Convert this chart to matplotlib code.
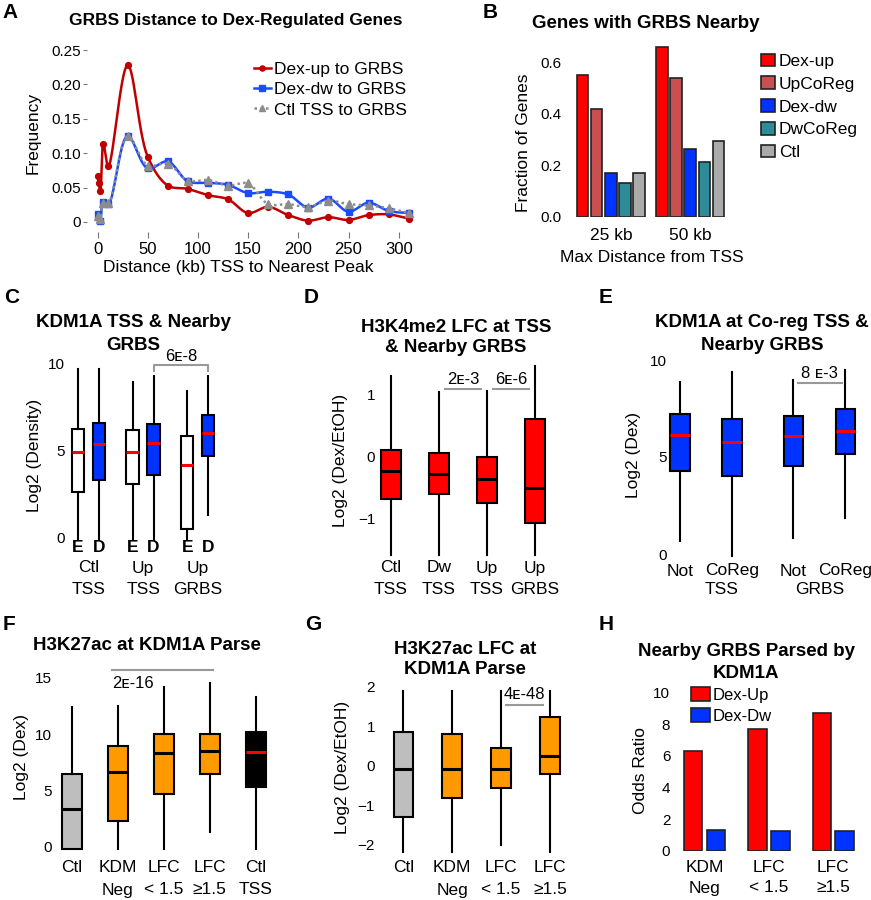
import numpy as np
import matplotlib
matplotlib.use('Agg')
import matplotlib.pyplot as plt
from matplotlib.lines import Line2D
from matplotlib.transforms import blended_transform_factory

plt.rcParams['font.family'] = ['Liberation Sans', 'DejaVu Sans']

# ---- A: GRBS distance to Dex-regulated genes ----
a_up_x = [0, 1.2, 2.8, 5.8, 10.8, 30, 50, 70, 90, 110, 130, 150, 170, 190, 210, 230, 250, 270, 290, 310]
a_up_y = [0.067, 0.056, 0.045, 0.114, 0.081, 0.228, 0.095, 0.053, 0.048, 0.039, 0.033, 0.013,
          0.022, 0.010, 0.002, 0.007, 0.003, 0.010, 0.011, 0.005]
a_dw_x = [0, 2.5, 5.8, 10.8, 30, 50, 70, 90, 110, 130, 150, 170, 190, 210, 230, 250, 270, 290, 310]
a_dw_y = [0.012, 0.002, 0.029, 0.026, 0.125, 0.078, 0.088, 0.059, 0.057, 0.054, 0.042, 0.044,
          0.040, 0.021, 0.034, 0.015, 0.028, 0.016, 0.013]
a_ctl_x = [0, 2.5, 5.8, 10.8, 30, 50, 70, 90, 110, 130, 150, 170, 190, 210, 230, 250, 270, 290, 310]
a_ctl_y = [0.008, 0.005, 0.027, 0.027, 0.125, 0.082, 0.085, 0.060, 0.061, 0.053, 0.056, 0.026,
           0.026, 0.022, 0.031, 0.026, 0.024, 0.020, 0.013]
a_names = ['Dex-up to GRBS', 'Dex-dw to GRBS', 'Ctl TSS to GRBS']

# ---- B: genes with GRBS nearby ----
b_groups = ['25 kb', '50 kb']
b_series = ['Dex-up', 'UpCoReg', 'Dex-dw', 'DwCoReg', 'Ctl']
b_dexup = [0.55, 0.66]
b_upcoreg = [0.418, 0.537]
b_dexdw = [0.171, 0.263]
b_dwcoreg = [0.13, 0.211]
b_ctl = [0.168, 0.295]

# ---- C: KDM1A TSS & nearby GRBS (E/D pairs) ----
c_groups = ['Ctl\nTSS', 'Up\nTSS', 'Up\nGRBS']
c_whislo = [-0.15, -0.15, -0.15, -0.15, -0.15, 1.3]
c_q1 = [2.6, 3.3, 3.05, 3.6, 0.45, 4.7]
c_med = [4.9, 5.35, 4.9, 5.4, 4.15, 6.0]
c_q3 = [6.2, 6.55, 6.15, 6.5, 5.8, 7.05]
c_whishi = [9.7, 9.7, 8.95, 9.25, 8.4, 9.25]
c_pval = '6ᴇ-8'

# ---- D: H3K4me2 LFC ----
d_labels = ['Ctl\nTSS', 'Dw\nTSS', 'Up\nTSS', 'Up\nGRBS']
d_whislo = [-1.58, -1.58, -1.58, -1.58]
d_q1 = [-0.68, -0.60, -0.75, -1.07]
d_med = [-0.23, -0.27, -0.36, -0.50]
d_q3 = [0.11, 0.07, 0.0, 0.61]
d_whishi = [1.30, 1.05, 1.07, 1.46]
d_pvals = ['2ᴇ-3', '6ᴇ-6']

# ---- E: KDM1A at co-reg TSS ----
e_labels = ['Not', 'CoReg', 'Not', 'CoReg']
e_groups = ['TSS', 'GRBS']
e_whislo = [0.69, -0.1, 0.81, 1.84]
e_q1 = [4.29, 4.04, 4.55, 5.15]
e_med = [6.13, 5.76, 6.08, 6.34]
e_q3 = [7.20, 6.96, 7.13, 7.47]
e_whishi = [8.88, 9.40, 8.97, 9.48]
e_pval = '8 ᴇ-3'

# ---- F: H3K27ac at KDM1A parse ----
f_labels = ['Ctl', 'KDM\nNeg', 'LFC\n< 1.5', 'LFC\n≥1.5', 'Ctl\nTSS']
f_whislo = [-0.15, -0.15, -0.15, 1.3, -0.15]
f_q1 = [-0.15, 2.33, 4.69, 6.46, 5.28]
f_med = [3.39, 6.64, 8.29, 8.50, 8.43]
f_q3 = [6.46, 8.94, 9.97, 9.97, 10.2]
f_whishi = [12.36, 12.48, 14.13, 14.49, 13.30]
f_pval = '2ᴇ-16'

# ---- G: H3K27ac LFC at KDM1A parse ----
g_labels = ['Ctl', 'KDM\nNeg', 'LFC\n< 1.5', 'LFC\n≥1.5']
g_whislo = [-2.18, -2.18, -2.01, -2.18]
g_q1 = [-1.31, -0.81, -0.57, -0.21]
g_med = [-0.09, -0.09, -0.09, 0.25]
g_q3 = [0.86, 0.80, 0.44, 1.24]
g_whishi = [1.90, 1.90, 1.90, 1.90]
g_pval = '4ᴇ-48'

# ---- H: odds ratio ----
h_groups = ['KDM\nNeg', 'LFC\n< 1.5', 'LFC\n≥1.5']
h_up = [6.31, 7.68, 8.70]
h_dw = [1.31, 1.27, 1.27]

RED = '#FF0000'
BLUE = '#0033FF'
ORANGE = '#FF9900'
GREY = '#BEBEBE'
PGREY = '#999999'

W, H = 871, 900
fig = plt.figure(figsize=(W / 100, H / 100), dpi=100)


def ptext(x, y, s, **kw):
    fig.text(x / W, 1 - y / H, s, **kw)


def title(x, y, s, step=23, size=13.5):
    for i, line in enumerate(s.split('\n')):
        ptext(x, y + i * step, line, ha='center', va='center', fontsize=size, fontweight='bold')


def make_axes(xlim, ylim, xref, yref):
    x0 = xref[1] + (xlim[0] - xref[0]) * xref[2]
    x1 = xref[1] + (xlim[1] - xref[0]) * xref[2]
    ytop = yref[1] - (ylim[1] - yref[0]) * yref[2]
    ybot = yref[1] - (ylim[0] - yref[0]) * yref[2]
    ax = fig.add_axes([x0 / W, 1 - ybot / H, (x1 - x0) / W, (ybot - ytop) / H])
    ax.set_xlim(xlim)
    ax.set_ylim(ylim)
    ax.patch.set_visible(False)
    for s in ax.spines.values():
        s.set_visible(False)
    return ax


def cat_labels(ax, xs, labels, ypx, step=21, **kw):
    tr = blended_transform_factory(ax.transData, fig.transFigure)
    for x, lab in zip(xs, labels):
        for i, line in enumerate(lab.split('\n')):
            ax.text(x, 1 - (ypx + i * step) / H, line, transform=tr, ha='center', va='center',
                    fontsize=12.5, clip_on=False, **kw)


def boxes(ax, pos, lo, q1, med, q3, hi, faces, medcols, width):
    stats = [dict(whislo=a, q1=b, med=c, q3=d, whishi=e) for a, b, c, d, e in zip(lo, q1, med, q3, hi)]
    bp = ax.bxp(stats, positions=pos, widths=width, showfliers=False, showcaps=False,
                patch_artist=True, manage_ticks=False,
                boxprops=dict(edgecolor='black', linewidth=1.5),
                whiskerprops=dict(color='black', linewidth=1.5),
                medianprops=dict(color='black', linewidth=2.2, solid_capstyle='butt'))
    for b, fc in zip(bp['boxes'], faces):
        b.set_facecolor(fc)
    for m, mc in zip(bp['medians'], medcols):
        m.set_color(mc)
    for k in bp:
        for art in bp[k]:
            art.set_clip_on(False)
    ax.set_xticks([])
    return bp


def yaxis(ax, ticks, labels, pad):
    ax.set_yticks(ticks, labels)
    ax.tick_params(axis='y', length=0, labelsize=11, pad=pad)


def smooth(x, y, sy=688.0, n=16):
    # centripetal Catmull-Rom curve through the measured points
    P = np.column_stack([np.asarray(x, float), np.asarray(y, float) * sy])
    pts = np.vstack([2 * P[0] - P[1], P, 2 * P[-1] - P[-2]])
    out = []
    for i in range(1, len(pts) - 2):
        p0, p1, p2, p3 = pts[i - 1:i + 3]
        d01 = max(np.linalg.norm(p1 - p0), 1e-6) ** 0.5
        d12 = max(np.linalg.norm(p2 - p1), 1e-6) ** 0.5
        d23 = max(np.linalg.norm(p3 - p2), 1e-6) ** 0.5
        t0, t1 = 0.0, d01
        t2 = t1 + d12
        t3 = t2 + d23
        t = np.linspace(t1, t2, n)[:, None]
        A1 = (t1 - t) / (t1 - t0) * p0 + (t - t0) / (t1 - t0) * p1
        A2 = (t2 - t) / (t2 - t1) * p1 + (t - t1) / (t2 - t1) * p2
        A3 = (t3 - t) / (t3 - t2) * p2 + (t - t2) / (t3 - t2) * p3
        B1 = (t2 - t) / (t2 - t0) * A1 + (t - t0) / (t2 - t0) * A2
        B2 = (t3 - t) / (t3 - t1) * A2 + (t - t1) / (t3 - t1) * A3
        C = (t2 - t) / (t2 - t1) * B1 + (t - t1) / (t2 - t1) * B2
        out.append(C if i == 1 else C[1:])
    C = np.vstack(out)
    return C[:, 0], C[:, 1] / sy


# ================= Panel A =================
axA = make_axes((-10, 320), (-0.015, 0.26), (0, 97.5, 1.004), (0, 222, 688))
styles = [
    (a_up_x, a_up_y, '#C00000', 'o', 4.2, '-'),
    (a_dw_x, a_dw_y, '#1A4CFF', 's', 4.2, '-'),
    (a_ctl_x, a_ctl_y, '#8C8C8C', '^', 5.5, (0, (1, 1.3))),
]
handles = []
for (xs, ys, col, mk, ms, ls), name in zip(styles, a_names):
    sx, sy = smooth(xs, ys)
    axA.plot(sx, sy, color=col, lw=1.8, ls=ls)
    axA.plot(xs, ys, ls='none', marker=mk, ms=ms, color=col)
    handles.append(Line2D([], [], color=col, lw=1.8, ls=ls, marker=mk, ms=ms - 0.5))
axA.set_xticks(range(0, 301, 50))
axA.set_yticks([0, 0.05, 0.10, 0.15, 0.20, 0.25], ['0', '0.05', '0.10', '0.15', '0.20', '0.25'])
axA.tick_params(axis='x', length=4, color='#777777', labelsize=12, pad=3)
axA.tick_params(axis='y', length=3, color='#777777', labelsize=11, pad=1.5)
axA.legend(handles=handles, labels=a_names, loc='upper left', frameon=False, fontsize=12.5,
           bbox_to_anchor=(245 / W, 1 - 53 / H), bbox_transform=fig.transFigure,
           borderpad=0, handlelength=1.0, handletextpad=0.15, labelspacing=0.3, numpoints=1)
title(236, 21, 'GRBS Distance to Dex-Regulated Genes', size=12.5)
ptext(238, 268, 'Distance (kb) TSS to Nearest Peak', ha='center', va='center', fontsize=12.5)
ptext(33, 133, 'Frequency', ha='center', va='center', rotation=90, fontsize=12.5)

# ================= Panel B =================
axB = make_axes((-1.2, 10.6), (0, 0.68), (0, 582.5, 14.17), (0, 216.7, 257.8))
b_vals = [b_dexup, b_upcoreg, b_dexdw, b_dwcoreg, b_ctl]
b_cols = ['#FF0000', '#C85050', '#0033FF', '#2E8B9A', '#AAAAAA']
group_step = 5.6
for j, (vals, col, name) in enumerate(zip(b_vals, b_cols, b_series)):
    xs = [g * group_step + j for g in range(len(b_groups))]
    axB.bar(xs, vals, width=0.82, color=col, edgecolor='#222222', linewidth=1.2, label=name)
axB.set_xticks([])
yaxis(axB, [0, 0.2, 0.4, 0.6], ['0.0', '0.2', '0.4', '0.6'], 3)
cat_labels(axB, [g * group_step + 2 for g in range(len(b_groups))], b_groups, 235)
axB.legend(loc='upper left', frameon=False, fontsize=12.5,
           bbox_to_anchor=(752 / W, 1 - 45 / H), bbox_transform=fig.transFigure,
           borderpad=0, handlelength=0.85, handleheight=0.75, handletextpad=0.2, labelspacing=0.42)
title(646, 23, 'Genes with GRBS Nearby')
ptext(652, 258, 'Max Distance from TSS', ha='center', va='center', fontsize=12.5)
ptext(523, 143, 'Fraction of Genes', ha='center', va='center', rotation=90, fontsize=12.5)

# ================= Panel C =================
axC = make_axes((-0.45, 7.0), (-0.3, 10.5), (0, 78, 21), (0, 537.3, 17.4))
c_pos = [0, 1, 2.6, 3.6, 5.2, 6.2]
boxes(axC, c_pos, c_whislo, c_q1, c_med, c_q3, c_whishi,
      ['white', BLUE] * 3, [RED] * 6, 0.59)
yaxis(axC, [0, 5, 10], ['0', '5', '10'], 2.5)
cat_labels(axC, c_pos, ['E', 'D'] * 3, 548, fontweight='bold')
cat_labels(axC, [(c_pos[2 * i] + c_pos[2 * i + 1]) / 2 for i in range(3)], c_groups, 568)
axC.plot([c_pos[3], c_pos[3], c_pos[5], c_pos[5]], [9.55, 9.9, 9.9, 9.55], color=PGREY, lw=1.5, clip_on=False)
axC.text((c_pos[3] + c_pos[5]) / 2, 10.4, c_pval, ha='center', va='center', fontsize=12)
title(133, 323, 'KDM1A TSS & Nearby\nGRBS')
ptext(35, 455, 'Log2 (Density)', ha='center', va='center', rotation=90, fontsize=12.5)

# ================= Panel D =================
axD = make_axes((-0.3, 3.5), (-1.65, 1.55), (0, 391, 48), (0, 457, 62))
d_pos = [0, 1, 2, 3]
boxes(axD, d_pos, d_whislo, d_q1, d_med, d_q3, d_whishi, [RED] * 4, ['black'] * 4, 0.42)
yaxis(axD, [-1, 0, 1], ['\u22121', '0', '1'], 1)
cat_labels(axD, d_pos, d_labels, 568)
for (a, b), txt in zip([(1, 2), (2, 3)], d_pvals):
    axD.plot([a + 0.12, b - 0.12], [1.09, 1.09], color=PGREY, lw=1.5, clip_on=False)
    axD.text((a + b) / 2, 1.25, txt, ha='center', va='center', fontsize=12)
title(456, 327, 'H3K4me2 LFC at TSS\n& Nearby GRBS', step=21)
ptext(340, 460, 'Log2 (Dex/EtOH)', ha='center', va='center', rotation=90, fontsize=12.5)

# ================= Panel E =================
axE = make_axes((-0.23, 3.5), (-0.3, 10.3), (0, 680, 52), (0, 554, 19.4))
e_pos = [0, 1, 2.18, 3.18]
boxes(axE, e_pos, e_whislo, e_q1, e_med, e_q3, e_whishi, [BLUE] * 4, [RED] * 4, 0.37)
yaxis(axE, [0, 5, 10], ['0', '5', '10'], 1)
cat_labels(axE, e_pos, e_labels, 571)
cat_labels(axE, [0.8, 2.68], e_groups, 590)
axE.plot([2.26, 3.11], [8.8, 8.8], color=PGREY, lw=1.5, clip_on=False)
axE.text(2.68, 9.28, e_pval, ha='center', va='center', fontsize=12)
title(762, 323, 'KDM1A at Co-reg TSS &\nNearby GRBS')
ptext(633, 455, 'Log2 (Dex)', ha='center', va='center', rotation=90, fontsize=12.5)

# ================= Panel F =================
axF = make_axes((-0.38, 4.45), (-0.5, 15.5), (0, 71.7, 46), (0, 847, 11.3))
f_pos = [0, 1, 2, 3, 4]
boxes(axF, f_pos, f_whislo, f_q1, f_med, f_q3, f_whishi,
      [GREY, ORANGE, ORANGE, ORANGE, 'black'], ['black'] * 4 + [RED], 0.43)
yaxis(axF, [0, 5, 10, 15], ['0', '5', '10', '15'], 2)
cat_labels(axF, f_pos, f_labels, 868, step=22)
axF.plot([0.87, 3.08], [15.7, 15.7], color=PGREY, lw=1.5, clip_on=False)
axF.text(0.87, 14.5, f_pval, ha='left', va='center', fontsize=12)
title(147, 645, 'H3K27ac at KDM1A Parse')
ptext(22, 757, 'Log2 (Dex)', ha='center', va='center', rotation=90, fontsize=12.5)

# ================= Panel G =================
axG = make_axes((-0.52, 3.4), (-2.3, 2.1), (0, 403.3, 48.9), (0, 765.7, 39.4))
g_pos = [0, 1, 2, 3]
boxes(axG, g_pos, g_whislo, g_q1, g_med, g_q3, g_whishi,
      [GREY, ORANGE, ORANGE, ORANGE], ['black'] * 4, 0.4)
yaxis(axG, [-2, -1, 0, 1, 2], ['\u22122', '\u22121', '0', '1', '2'], 2)
cat_labels(axG, g_pos, g_labels, 868, step=22)
axG.plot([2.1, 2.85], [1.54, 1.54], color=PGREY, lw=1.5, clip_on=False)
axG.text(2.47, 1.81, g_pval, ha='center', va='center', fontsize=12)
title(465, 649, 'H3K27ac LFC at\nKDM1A Parse', step=21)
ptext(342, 767, 'Log2 (Dex/EtOH)', ha='center', va='center', rotation=90, fontsize=12.5)

# ================= Panel H =================
axH = make_axes((-1.7, 8.4), (0, 10.5), (0, 704.5, 18.5), (0, 850.7, 15.8))
h_centers = [g * 3.48 for g in range(len(h_groups))]
axH.bar([c - 0.615 for c in h_centers], h_up, width=1.0, color=RED, edgecolor='#222222',
        linewidth=1.2, label='Dex-Up')
axH.bar([c + 0.615 for c in h_centers], h_dw, width=1.0, color=BLUE, edgecolor='#222222',
        linewidth=1.2, label='Dex-Dw')
axH.set_xticks([])
yaxis(axH, [0, 2, 4, 6, 8, 10], ['0', '2', '4', '6', '8', '10'], 2)
cat_labels(axH, h_centers, h_groups, 868, step=20)
axH.legend(loc='upper left', frameon=False, fontsize=12,
           bbox_to_anchor=(683 / W, 1 - 679 / H), bbox_transform=fig.transFigure,
           borderpad=0, handlelength=1.1, handleheight=0.9, handletextpad=0.2, labelspacing=0.3)
title(746, 651, 'Nearby GRBS Parsed by\nKDM1A', step=22)
ptext(640, 770, 'Odds Ratio', ha='center', va='center', rotation=90, fontsize=12.5)

# panel letters
for (x, y, s) in [(10, 12, 'A'), (490, 12, 'B'), (12, 297, 'C'), (311, 297, 'D'), (606, 297, 'E'),
                  (9, 624, 'F'), (313, 625, 'G'), (606, 625, 'H')]:
    ptext(x, y, s, ha='center', va='center', fontsize=15, fontweight='bold')

fig.savefig('out.png', dpi=100)
